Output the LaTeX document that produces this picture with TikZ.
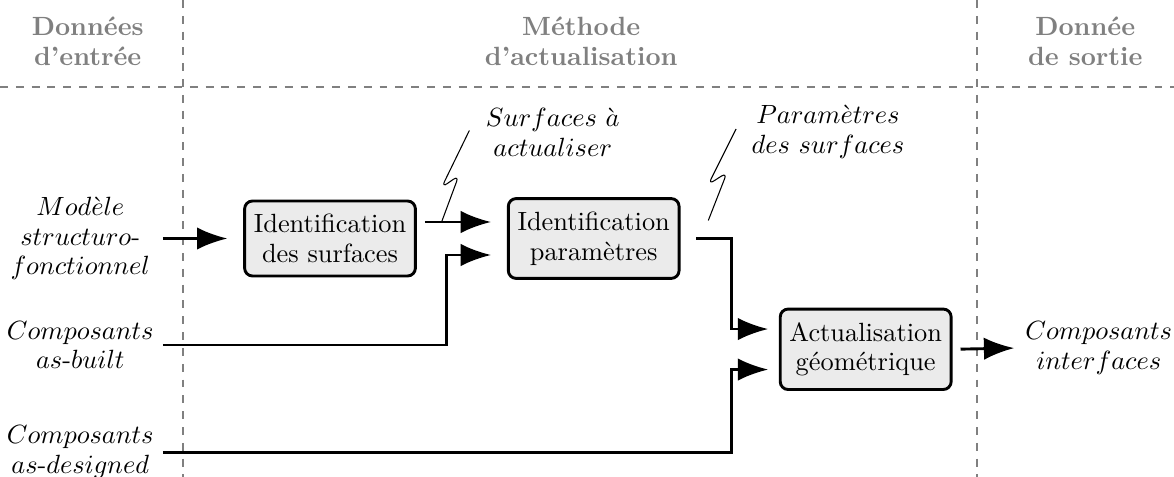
\documentclass[tikz,border=0pt]{standalone}
\usepackage{amsmath,amssymb}
\usepackage{tikz}
\usetikzlibrary{arrows.meta, positioning, calc}
\tikzset{
  tight/.style={execute at begin node=\setlength{\baselineskip}{11.3pt}},
  box/.style={rectangle, draw=black, fill=black!8, rounded corners=3pt, tight,
              line width=1.1pt, align=center, inner xsep=3.5pt, inner ysep=5pt},
  datain/.style={text width=2.19cm, align=center, inner sep=0pt, tight},
  dataout/.style={text width=2.1cm, align=center, inner sep=0pt, tight},
  header/.style={font=\bfseries, text=black!50, align=center, tight},
  sep/.style={draw=black!50, dashed, line width=0.8pt},
  arrow/.style={-{Latex[length=11.5pt,width=8.5pt]}, line width=1.1pt,
                shorten >=6pt, shorten <=3pt},
  bolt/.style={line width=0.4pt, rounded corners=2.5pt},
  note/.style={align=center, inner sep=0pt, tight},
}
\begin{document}
\begin{tikzpicture}
  \useasboundingbox (0,0) rectangle (15.653,-6.36);

  % Separators
  \draw[sep] (0,-1.16) -- (15.653,-1.16);
  \draw[sep] (2.44,0) -- (2.44,-6.36);
  \draw[sep] (13.03,0) -- (13.03,-6.36);

  % Headers
  \node[header] (hin) at (1.17,-0.55) {Données\\d'entrée};
  \node[header] (hmeth) at (7.75,-0.55) {Méthode\\d'actualisation};
  \node[header] (hout) at (14.47,-0.55) {Donnée\\de sortie};

  % Nodes
  \node[box] (idsurf) at (4.4,-3.18) {Identification\\des surfaces};
  \node[box, right=1.2cm of idsurf] (idparam) {Identification\\paramètres};
  \node[box, below right=0.37cm and 1.31cm of idparam] (actu) {Actualisation\\géométrique};

  \node[datain] (model) at (1.07,-3.18) {$Mod\grave{e}le$\\$structuro$-\\$fonctionnel$};
  \node[datain] (built) at (1.07,-4.6) {$Composants$\\$as$-$built$};
  \node[datain] (designed) at (1.07,-6.03) {$Composants$\\$as$-$designed$};
  \node[dataout] (iface) at (14.65,-4.64) {$Composants$\\$interfaces$};

  \node[note] (nsurf) at (7.37,-1.76) {$Surfaces\ \grave{a}$\\$actualiser$};
  \node[note] (nparam) at (11.04,-1.76) {$Param\grave{e}tres$\\$des\ surfaces$};

  % Edges
  \draw[arrow, shorten <=0pt] (model.east) -- (idsurf.west);
  \draw[arrow] ([yshift=0.22cm]idsurf.east) -- ([yshift=0.22cm]idparam.west);
  \draw[arrow, shorten <=0pt] (built.east) -| ([xshift=-0.8cm,yshift=-0.22cm]idparam.west)
    -- ([yshift=-0.22cm]idparam.west);
  \draw[arrow, shorten <=6pt, shorten >=4pt] (idparam.east)
    -| ([xshift=-0.63cm,yshift=0.27cm]actu.west) -- ([yshift=0.27cm]actu.west);
  \draw[arrow, shorten <=0pt, shorten >=4pt] (designed.east)
    -| ([xshift=-0.63cm,yshift=-0.27cm]actu.west) -- ([yshift=-0.27cm]actu.west);
  \draw[arrow, shorten >=2pt] (actu.east) -- (iface.west);

  % Lightning marks
  \coordinate (bolt1) at ([xshift=0.33cm,yshift=0.22cm]idsurf.east);
  \draw[bolt] (bolt1) -- ++(0.23,0.62) -- ++(-0.23,-0.16) -- ++(0.37,0.76);
  \coordinate (bolt2) at ([xshift=0.37cm,yshift=0.24cm]idparam.east);
  \draw[bolt] (bolt2) -- ++(0.25,0.64) -- ++(-0.25,-0.16) -- ++(0.37,0.74);

\end{tikzpicture}
\end{document}
